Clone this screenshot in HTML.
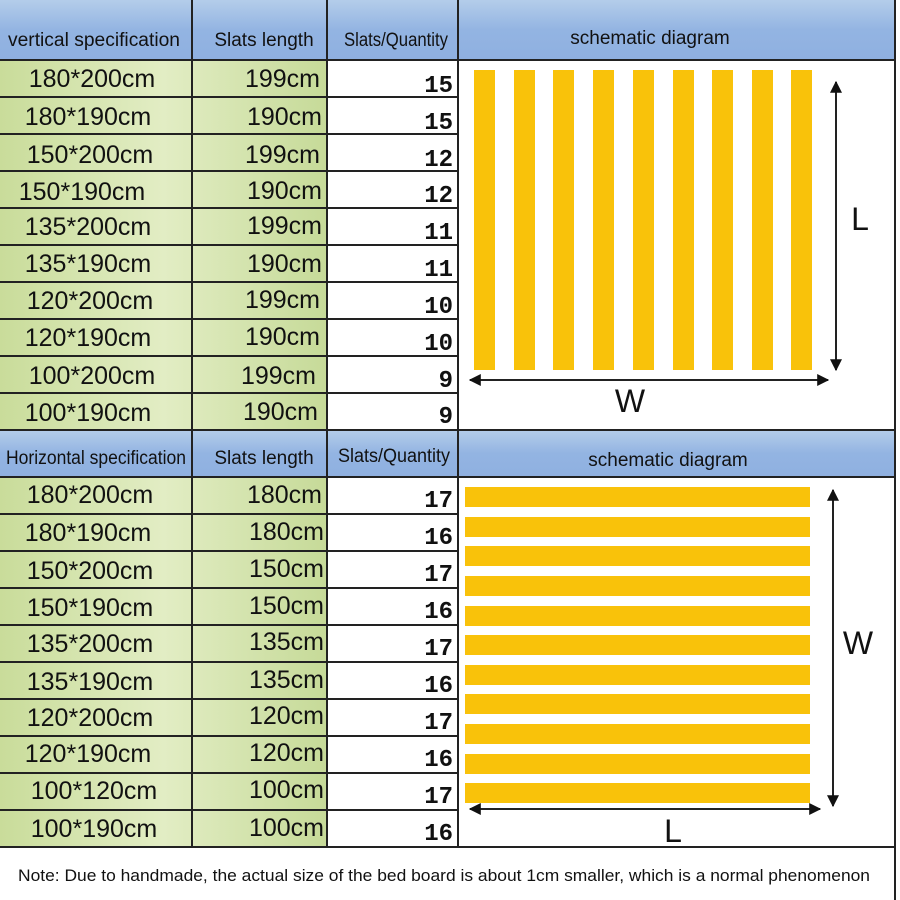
<!DOCTYPE html>
<html><head><meta charset="utf-8"><style>
html,body{margin:0;padding:0;background:#fff;}
svg{display:block;font-family:"Liberation Sans",sans-serif;}
.t{font-size:25px;fill:#111;}
.h{font-size:19px;fill:#111;}
.q{font-family:"Liberation Mono",monospace;font-weight:bold;font-size:24px;fill:#111;}
</style></head><body>
<svg width="900" height="900" viewBox="0 0 900 900" xmlns="http://www.w3.org/2000/svg">
<defs>
<linearGradient id="bl" x1="0" y1="0" x2="0" y2="1"><stop offset="0" stop-color="#b4cdea"/><stop offset="0.5" stop-color="#93b4e2"/><stop offset="1" stop-color="#8fb0e0"/></linearGradient>
<linearGradient id="gr" x1="0" y1="0" x2="1" y2="0"><stop offset="0" stop-color="#c9dc9a"/><stop offset="0.5" stop-color="#e2edc4"/><stop offset="1" stop-color="#c6da98"/></linearGradient>
<marker id="ah" viewBox="0 0 10 10" refX="9" refY="5" markerWidth="6" markerHeight="6" orient="auto-start-reverse"><path d="M0,0 L10,5 L0,10 z" fill="#111"/></marker>
</defs>
<rect width="900" height="900" fill="#fff"/>
<!-- headers -->
<rect x="0" y="0" width="895" height="60" fill="url(#bl)"/>
<rect x="0" y="430" width="895" height="47" fill="url(#bl)"/>
<!-- green cells -->
<rect x="0" y="60" width="327" height="370" fill="url(#gr)"/>
<rect x="0" y="477" width="327" height="370" fill="url(#gr)"/>
<!-- grid lines -->
<g stroke="#222" stroke-width="2">
<line x1="0" y1="60" x2="895" y2="60"/>
<line x1="0" y1="430" x2="895" y2="430"/>
<line x1="0" y1="477" x2="895" y2="477"/>
<line x1="0" y1="847" x2="895" y2="847"/>
<line x1="192" y1="0" x2="192" y2="847"/>
<line x1="327" y1="0" x2="327" y2="847"/>
<line x1="458" y1="0" x2="458" y2="847"/>
<line x1="895" y1="0" x2="895" y2="900"/>
<line x1="0" y1="97" x2="458" y2="97"/><line x1="0" y1="134" x2="458" y2="134"/><line x1="0" y1="171" x2="458" y2="171"/><line x1="0" y1="208" x2="458" y2="208"/><line x1="0" y1="245" x2="458" y2="245"/><line x1="0" y1="282" x2="458" y2="282"/><line x1="0" y1="319" x2="458" y2="319"/><line x1="0" y1="356" x2="458" y2="356"/><line x1="0" y1="393" x2="458" y2="393"/>
<line x1="0" y1="514" x2="458" y2="514"/><line x1="0" y1="551" x2="458" y2="551"/><line x1="0" y1="588" x2="458" y2="588"/><line x1="0" y1="625" x2="458" y2="625"/><line x1="0" y1="662" x2="458" y2="662"/><line x1="0" y1="699" x2="458" y2="699"/><line x1="0" y1="736" x2="458" y2="736"/><line x1="0" y1="773" x2="458" y2="773"/><line x1="0" y1="810" x2="458" y2="810"/>
</g>
<!-- header text -->
<text class="h" x="94" y="46" text-anchor="middle" textLength="172" lengthAdjust="spacingAndGlyphs">vertical specification</text>
<text class="h" x="264" y="46" text-anchor="middle">Slats length</text>
<text class="h" x="396" y="46" text-anchor="middle" textLength="104" lengthAdjust="spacingAndGlyphs">Slats/Quantity</text>
<text class="h" x="650" y="44" text-anchor="middle">schematic diagram</text>
<text class="h" x="96" y="464" text-anchor="middle" textLength="180" lengthAdjust="spacingAndGlyphs">Horizontal specification</text>
<text class="h" x="264" y="464" text-anchor="middle">Slats length</text>
<text class="h" x="394" y="462" text-anchor="middle" textLength="112" lengthAdjust="spacingAndGlyphs">Slats/Quantity</text>
<text class="h" x="668" y="466" text-anchor="middle">schematic diagram</text>
<!-- vertical rows -->
<g class="t">
<text x="92" y="87" text-anchor="middle">180*200cm</text><text x="320" y="87" text-anchor="end">199cm</text>
<text x="88" y="125" text-anchor="middle">180*190cm</text><text x="322" y="125" text-anchor="end">190cm</text>
<text x="90" y="163" text-anchor="middle">150*200cm</text><text x="320" y="163" text-anchor="end">199cm</text>
<text x="82" y="200" text-anchor="middle">150*190cm</text><text x="322" y="199" text-anchor="end">190cm</text>
<text x="88" y="235" text-anchor="middle">135*200cm</text><text x="322" y="234" text-anchor="end">199cm</text>
<text x="88" y="272" text-anchor="middle">135*190cm</text><text x="322" y="272" text-anchor="end">190cm</text>
<text x="90" y="309" text-anchor="middle">120*200cm</text><text x="320" y="308" text-anchor="end">199cm</text>
<text x="88" y="346" text-anchor="middle">120*190cm</text><text x="320" y="345" text-anchor="end">190cm</text>
<text x="92" y="384" text-anchor="middle">100*200cm</text><text x="316" y="384" text-anchor="end">199cm</text>
<text x="88" y="421" text-anchor="middle">100*190cm</text><text x="318" y="420" text-anchor="end">190cm</text>
</g>
<g class="q" text-anchor="end">
<text x="453" y="92">15</text><text x="453" y="129">15</text><text x="453" y="166">12</text><text x="453" y="202">12</text><text x="453" y="239">11</text><text x="453" y="276">11</text><text x="453" y="313">10</text><text x="453" y="350">10</text><text x="453" y="387">9</text><text x="453" y="423">9</text>
</g>
<!-- horizontal rows -->
<g class="t">
<text x="90" y="503" text-anchor="middle">180*200cm</text><text x="322" y="503" text-anchor="end">180cm</text>
<text x="88" y="541" text-anchor="middle">180*190cm</text><text x="324" y="540" text-anchor="end">180cm</text>
<text x="90" y="579" text-anchor="middle">150*200cm</text><text x="324" y="577" text-anchor="end">150cm</text>
<text x="90" y="616" text-anchor="middle">150*190cm</text><text x="324" y="614" text-anchor="end">150cm</text>
<text x="90" y="652" text-anchor="middle">135*200cm</text><text x="324" y="650" text-anchor="end">135cm</text>
<text x="90" y="690" text-anchor="middle">135*190cm</text><text x="324" y="688" text-anchor="end">135cm</text>
<text x="90" y="726" text-anchor="middle">120*200cm</text><text x="324" y="724" text-anchor="end">120cm</text>
<text x="88" y="762" text-anchor="middle">120*190cm</text><text x="324" y="761" text-anchor="end">120cm</text>
<text x="94" y="799" text-anchor="middle">100*120cm</text><text x="324" y="798" text-anchor="end">100cm</text>
<text x="94" y="837" text-anchor="middle">100*190cm</text><text x="324" y="836" text-anchor="end">100cm</text>
</g>
<g class="q" text-anchor="end">
<text x="453" y="507">17</text><text x="453" y="544">16</text><text x="453" y="581">17</text><text x="453" y="618">16</text><text x="453" y="655">17</text><text x="453" y="692">16</text><text x="453" y="729">17</text><text x="453" y="766">16</text><text x="453" y="803">17</text><text x="453" y="840">16</text>
</g>
<!-- vertical slats -->
<g fill="#f9c20a">
<rect x="474" y="70" width="21" height="300"/><rect x="514" y="70" width="21" height="300"/><rect x="553" y="70" width="21" height="300"/><rect x="593" y="70" width="21" height="300"/><rect x="633" y="70" width="21" height="300"/><rect x="673" y="70" width="21" height="300"/><rect x="712" y="70" width="21" height="300"/><rect x="752" y="70" width="21" height="300"/><rect x="791" y="70" width="21" height="300"/>
</g>
<line x1="836" y1="82" x2="836" y2="370" stroke="#222" stroke-width="2" marker-start="url(#ah)" marker-end="url(#ah)"/>
<line x1="470" y1="380" x2="828" y2="380" stroke="#222" stroke-width="2" marker-start="url(#ah)" marker-end="url(#ah)"/>
<text x="860" y="230" font-size="32" text-anchor="middle" fill="#111">L</text>
<text x="630" y="412" font-size="32" text-anchor="middle" fill="#111">W</text>
<!-- horizontal slats -->
<g fill="#f9c20a">
<rect x="465" y="487" width="345" height="20"/><rect x="465" y="517" width="345" height="20"/><rect x="465" y="546" width="345" height="20"/><rect x="465" y="576" width="345" height="20"/><rect x="465" y="606" width="345" height="20"/><rect x="465" y="635" width="345" height="20"/><rect x="465" y="665" width="345" height="20"/><rect x="465" y="694" width="345" height="20"/><rect x="465" y="724" width="345" height="20"/><rect x="465" y="754" width="345" height="20"/><rect x="465" y="783" width="345" height="20"/>
</g>
<line x1="833" y1="490" x2="833" y2="806" stroke="#222" stroke-width="2" marker-start="url(#ah)" marker-end="url(#ah)"/>
<line x1="470" y1="809" x2="820" y2="809" stroke="#222" stroke-width="2" marker-start="url(#ah)" marker-end="url(#ah)"/>
<text x="858" y="654" font-size="32" text-anchor="middle" fill="#111">W</text>
<text x="673" y="842" font-size="32" text-anchor="middle" fill="#111">L</text>
<!-- note -->
<text x="18" y="881" font-size="16.5" fill="#111" textLength="852" lengthAdjust="spacingAndGlyphs">Note: Due to handmade, the actual size of the bed board is about 1cm smaller, which is a normal phenomenon</text>
</svg>
</body></html>
